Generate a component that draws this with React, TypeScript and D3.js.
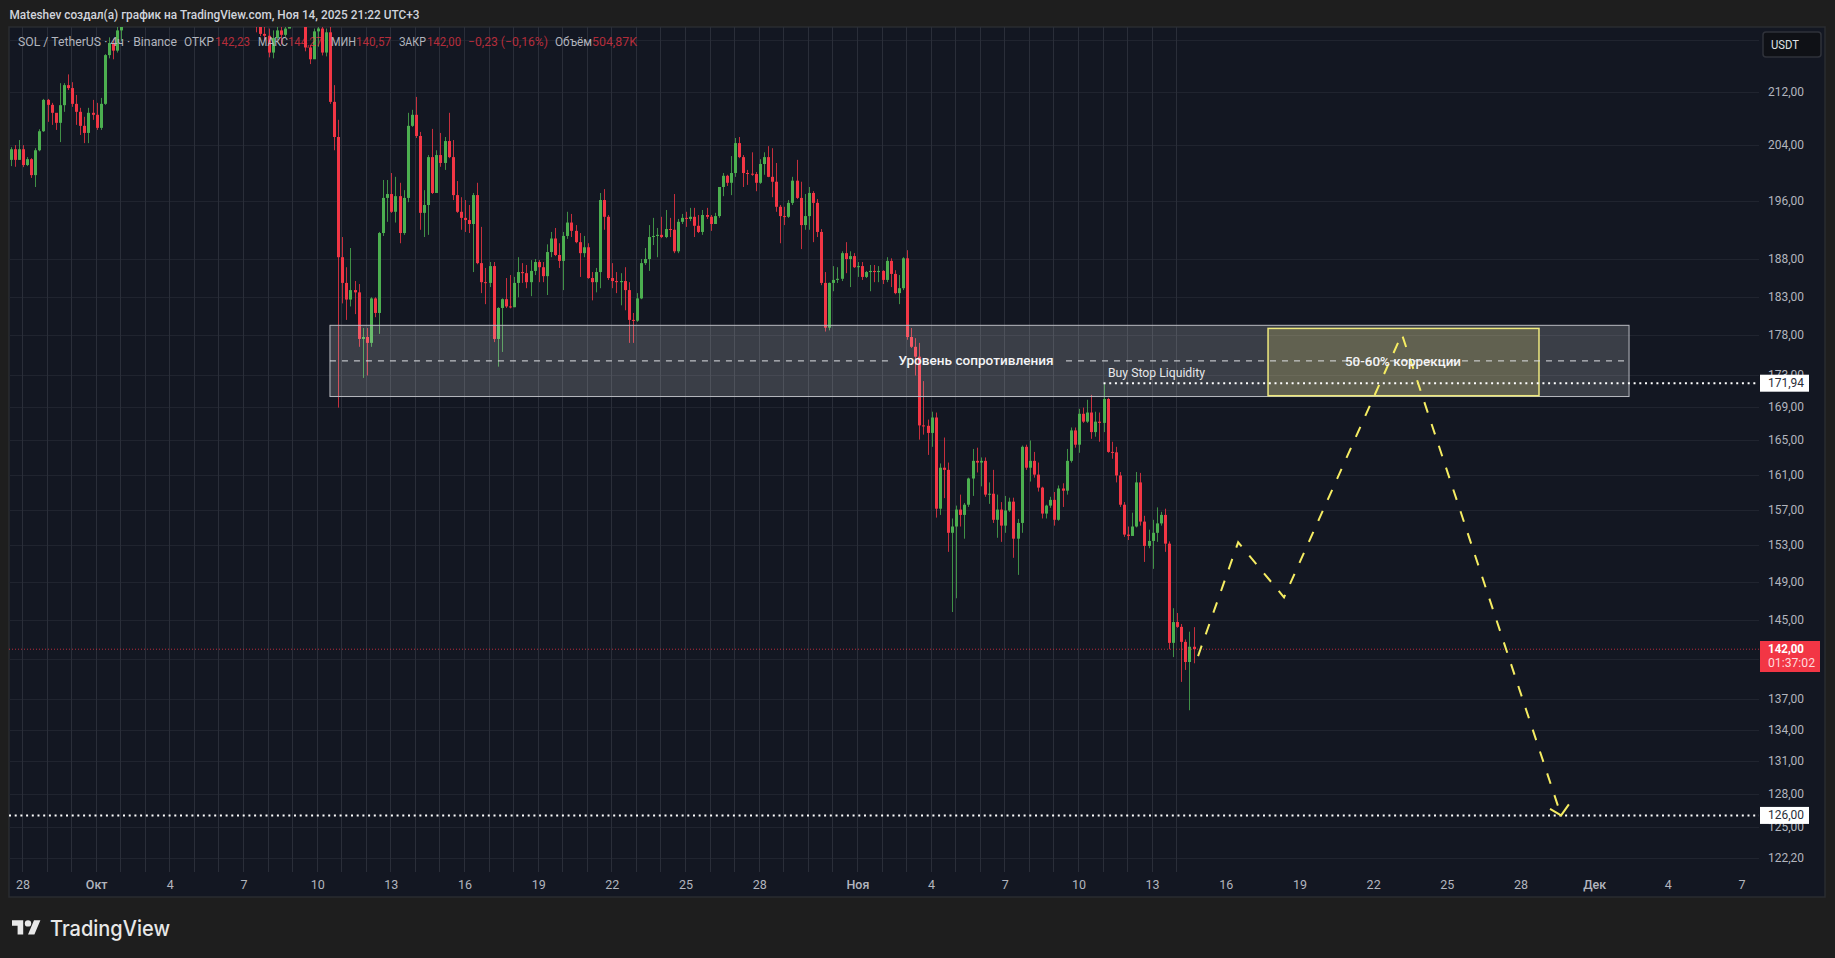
import React from "react";
import * as d3 from "d3";

// 4h candles, first one is Sep 27 12:00. Open is the previous close.
const firstOpen = 201.9;
const closes = [
  203.45,201.9,203.45,201.15,202.0,199.7,203.3,206.1,210.8,210.05,
  208.85,207.35,210,213.05,212.6,210.2,209,206.9,205.85,208.85,
  208.55,206.6,210.2,217.7,219.6,218.4,221.6,223,224.5,226,
  225.2,227,228.4,227.6,229,230.5,229.8,231,232.4,231.6,
  233,234.2,233.1,232,233.5,235,234.2,233,231.8,232.6,
  231,229.7,230.4,228.9,227.5,228.2,226.8,225.6,226.4,225,
  222.4,221.05,220.75,218.1,220.4,221.6,220.9,221.9,224.5,226.2,
  227,225.4,218.9,217.05,221.45,221.9,218.1,221.3,210.5,205.25,
  188.25,184.8,182.6,183.85,183.55,177.5,177.75,177,182.75,180.85,
  191.55,196.45,197,194.5,196.7,191.55,196.45,206.9,208.55,205.4,
  194.35,195.45,202.3,197.15,202.6,201.45,204.65,202.3,196.85,194.5,
  193.65,193.35,192.8,196.85,187.45,184.9,184.8,187.05,177.5,181.5,
  182.65,181.7,181.6,184.8,186.25,186.1,184.9,186.4,187.6,186.9,
  185.7,188.95,190.8,188.55,187.75,191.15,193,191.85,190.3,188.8,
  189.6,185.45,184.9,186.25,196.15,193.8,185.45,185.05,184.9,185.05,
  183.85,179.95,179.85,182.75,187.45,188,191,191.15,191.3,191,
  192.1,192,189.05,193.1,193.65,193.5,193.8,192.55,191.7,194.05,
  193.8,192.8,193.9,198,199.6,198.6,200,204.35,202.3,200,
  199.9,199.85,198.6,201.3,202.3,199.45,198.75,195.2,193.9,193.8,
  195.75,198.9,196.45,192.65,193.9,197.15,195.75,191.7,184.8,178.95,
  184.8,185.2,185.35,188.8,188,188.4,186.9,187.05,185.6,186.25,
  186.4,186.25,186.4,185.2,187.75,186,183.45,184.1,188.1,177.75,
  176.5,175.25,166.8,166.75,165.9,167.75,157.1,161.8,161.55,154.4,
  155.1,157,156.4,157.55,160.55,162.6,162.4,162.6,158.7,158.8,
  155.85,157,155.2,156.9,157.9,153.75,155.5,164.25,161.8,162.6,
  161,159.5,156.55,157.45,158.1,155.85,159.4,159.15,162.6,166.2,
  164.5,168.2,167.25,168.35,166,167.25,167.1,170,163.65,163.6,
  160.9,157.55,154.2,154.05,155.1,160.1,155.65,152.95,153.5,154.4,
  155.45,156.4,153.2,142.65,144.8,144.3,142.75,140.7,142.25,142,
];
const highs = [
  203.75,204.05,204.8,204.05,202.3,202.15,203.6,206.4,210.95,210.95,
  210.35,208.7,213.35,213.35,214.7,213.5,211.55,209.6,208.25,209.6,
  210.8,210.35,211.1,217.85,220.5,220.3,222.4,224.5,225.6,227.2,
  227,228.3,229.6,229,230.2,231.6,231.2,232.3,233.5,233,
  234.4,235.6,234.8,233.4,234.8,236.3,235.6,234.5,233.4,233.6,
  232.8,231.2,231.6,230.6,229,229.4,228.4,227,227.6,226.6,
  225.5,222.8,222.4,221.9,221.6,222.6,222.5,223,225.6,227.4,
  228.3,227,226,219.25,221.9,223.2,223,221.9,223.8,213.05,
  207.8,191,186.9,189.5,185.05,184.65,178.9,178.9,182.9,182.9,
  191.7,199,199,200,199.45,198.6,197.55,208.85,209.3,211.25,
  206,197.55,202.6,206.45,203.3,205.85,205.25,208.85,204.8,198.85,
  196.55,196.15,195.45,197.15,198.6,192.4,186.8,187.6,187.6,181.6,
  182.75,185.45,185.85,185.6,188.25,187.45,187.2,187.85,188,187.85,
  187.6,190,191.7,192.25,190.15,191.7,194.5,194.2,192.65,191.55,
  191.15,190.15,186.25,186.8,197.15,197.7,194.05,187.45,186.25,186.1,
  186.9,184.9,180.85,183.45,188,189.5,192.65,193.65,192.25,193.8,
  194.75,193.65,197,193.5,194.2,194.5,195.05,195.05,194.05,194.75,
  195.05,194.05,194.35,198,200,199.75,202.45,205.1,205.25,202.6,
  200.45,203,200.15,202,203,203.9,203.6,201.45,195.45,195.2,
  196.15,199.45,201.9,198.75,197,198,197.4,196.3,192.1,186.25,
  184.85,187.05,186.9,189.05,190.3,189.05,188.8,187.6,187.6,186.4,
  187.2,187.2,187.05,186.5,188.25,188.1,186.5,185.85,188.25,189.2,
  178.9,177.6,177,172.2,167.5,168.45,168.35,162.3,165.35,162.4,
  156,157.45,158.7,157.75,160.65,164,164.15,163,163,160.1,
  161.55,158.7,157.85,158.55,158.35,158.35,155.95,164.4,164.5,165,
  163.65,162.4,159.6,157.55,158.45,159,159.75,160,164,166.55,
  166.55,168.8,168.95,169.9,170.5,168.45,168.35,171.85,170.15,164.85,
  164.25,161.3,157.85,155.1,156.65,161.3,161.2,156.3,154.75,155.85,
  157.25,156.75,157.1,153.45,146.25,145.75,144.6,143,143.8,144.27,
];
const lows = [
  201,200.9,201.9,200.85,201,199.3,198,203.15,206,207.5,
  207.05,206.3,204.5,209,212.3,209.75,207.05,205.55,204.35,204.35,
  207.8,206.3,206.3,210.05,217.2,217.05,218.1,219.9,223,224,
  224.6,225,226.8,226.6,227.4,228.8,228.8,229.6,231,230.6,
  231.4,232.8,232.2,231,231.8,233.2,233.4,232.2,230.8,231,
  230,228.6,229.2,228,226.6,226.8,225.8,224.8,225,224,
  221.3,220.7,219.85,217.35,217.2,220.1,219.4,220.6,223,224,
  225.2,223.6,218.3,216.3,217.35,219,217.65,217.5,210.2,203.3,
  168.95,182.1,179.95,181.7,180.7,176.5,172.6,172.9,176.5,180.3,
  178.15,191.15,193.1,194.35,193,190.15,191.3,195.85,206.75,205.1,
  192,191,191.3,197,197.85,200.9,200.45,202.15,196.15,194.35,
  192,191.7,191.55,186.25,187.3,183.45,182,184.25,177.1,174,
  175.85,181.5,181.45,181.6,182.9,184.8,184.1,183.05,185.85,184.9,
  184.9,183.2,188.25,188.4,186.8,183.85,190.75,191,190.15,185.6,
  188.25,185.35,182.5,183.55,184.1,192,185.2,184.1,183.45,181.85,
  181.2,177,177,179.7,182.65,187.2,186.4,189.9,188.25,190.85,
  190.85,191,188.8,188.8,192.8,192.4,193.2,191,191.55,191.3,
  193.5,191.85,192.8,193.65,196.7,198.15,196.85,199.45,202.15,198,
  198.3,199.6,197.4,198.45,199.75,199.4,196.55,194.5,190.15,192.65,
  193.65,195.45,196.3,189.35,192,192,190.3,191,184.5,178.45,
  178.6,183.7,184.8,185.05,186.1,184.25,186.8,185.6,185.2,185.45,
  183.7,184.9,184.9,184.65,184.9,184.25,183.3,182,183.85,177.4,
  176.35,172.9,165.1,165.7,163.3,164.25,156.1,156.4,158.3,152.3,
  145.85,147.3,155.1,153.75,157.3,158.55,161.25,159.65,158.45,157.65,
  155.5,153.85,153.4,154.4,156.75,151.65,149.8,154.4,161.55,160.2,
  160.65,159.05,156,156,157.2,155.2,155.75,157.3,158.7,162.4,
  164.15,163.55,167.1,167.1,165.2,165.45,164.85,166,163.55,162.85,
  160.1,157.3,153.95,153.6,154.2,155,155.2,151.2,152.7,150.45,
  153.4,155.2,152.3,142,141.2,144.2,138.7,139.9,135.9,140.57,
];

const priceTicks = [212, 204, 196, 188, 183, 178, 173, 169, 165, 161, 157, 153, 149, 145, 137, 134, 131, 128, 125, 122.2];
const hiddenGridPrices = [220, 141];
const dateTicks: [number, number, number, string][] = [
  [8, 28, 2025, "28"], [9, 1, 2025, "Окт"], [9, 4, 2025, "4"], [9, 7, 2025, "7"], [9, 10, 2025, "10"], [9, 13, 2025, "13"],
  [9, 16, 2025, "16"], [9, 19, 2025, "19"], [9, 22, 2025, "22"], [9, 25, 2025, "25"], [9, 28, 2025, "28"], [10, 1, 2025, "Ноя"],
  [10, 4, 2025, "4"], [10, 7, 2025, "7"], [10, 10, 2025, "10"], [10, 13, 2025, "13"], [10, 16, 2025, "16"], [10, 19, 2025, "19"],
  [10, 22, 2025, "22"], [10, 25, 2025, "25"], [10, 28, 2025, "28"], [11, 1, 2025, "Дек"], [11, 4, 2025, "4"], [11, 7, 2025, "7"],
];

// forecast path, in candle slots / price
const forecastSlots = [290.1, 299.9, 311.1, 339.9, 378.8];
const forecastPrices = [141.3, 153.35, 147.4, 178.1, 126];
const arrowSlots = [376.1, 378.8, 380.7];
const arrowPrices = [126.6, 126, 127];

const zoneTop = 179.25;
const zoneBottom = 170.3;
const zoneMid = 174.72;
const zoneStart = 78;
const zoneEnd = 395.4;
const fibTop = 178.85;
const fibBottom = 170.4;
const fibStart = 307.2;
const fibEnd = 373.4;
const liquidity = 171.94;
const liquidityStart = 267;
const target = 126;
const lastPrice = 142;

const legendParts: [string, number, number, string][] = [
  ["SOL / TetherUS · 4ч · Binance", 18, 159, "#b2b5be"],
  ["ОТКР", 184, 30, "#b2b5be"],
  ["142,23", 215, 35, "#f23645"],
  ["МАКС", 258, 30, "#b2b5be"],
  ["144,27", 288, 34, "#f23645"],
  ["МИН", 331, 25, "#b2b5be"],
  ["140,57", 356, 35, "#f23645"],
  ["ЗАКР", 399, 27, "#b2b5be"],
  ["142,00", 427, 34, "#f23645"],
  ["−0,23 (−0,16%)", 468, 80, "#f23645"],
  ["Объём", 555, 37, "#b2b5be"],
  ["504,87K", 592, 45, "#f23645"],
];

const W = 1835;
const H = 958;
const left = 9;
const top = 27;
const plotRight = 1759;
const plotBottom = 872;
const panelRight = 1825;
const panelBottom = 897;
const font = "Roboto, 'Noto Sans', sans-serif";
const H4 = 4 * 3600 * 1000;
const t0 = Date.UTC(2025, 8, 27, 12);

const x = d3.scaleUtc().domain([new Date(Date.UTC(2025, 8, 28)), new Date(Date.UTC(2025, 11, 7))]).range([23, 1742]);
const y = d3.scaleLog().domain([212, 122.2]).range([92, 858]);
const slotX = (i: number) => x(new Date(t0 + i * H4));
const fmt = (v: number) => v.toFixed(2).replace(".", ",");

const dayLines = d3.utcDay.range(new Date(Date.UTC(2025, 8, 28)), new Date(Date.UTC(2025, 10, 15)));

const forecastLine = d3.line<number>().x((s) => slotX(s)).y((_, i) => y(forecastPrices[i]));
const arrowLine = d3.line<number>().x((s) => slotX(s)).y((_, i) => y(arrowPrices[i]));

export default function App() {
  return (
    <svg width={W} height={H} style={{ position: "fixed", left: 0, top: 0, display: "block" }} fontFamily={font}>
      <defs>
        <clipPath id="plot">
          <rect x={left} y={top} width={plotRight - left} height={plotBottom - top} />
        </clipPath>
      </defs>
      <rect width={W} height={H} fill="#1e1e1e" />
      <rect x={left} y={top} width={panelRight - left} height={panelBottom - top} fill="#131722" stroke="#2a2c31" strokeWidth={1.5} />
      <text x={9.5} y={19} fontSize={12} fontWeight={500} fill="#d1d4dc" textLength={410} lengthAdjust="spacingAndGlyphs">
        Mateshev создал(а) график на TradingView.com, Ноя 14, 2025 21:22 UTC+3
      </text>

      {/* grid */}
      <g stroke="#20242f">
        {[...priceTicks, ...hiddenGridPrices].map((p) => (
          <line key={p} x1={left} x2={plotRight} y1={Math.round(y(p)) + 0.5} y2={Math.round(y(p)) + 0.5} />
        ))}
      </g>
      <g stroke="#2a2e39">
        {dayLines.map((d) => (
          <line key={+d} x1={Math.round(x(d)) - 0.5} x2={Math.round(x(d)) - 0.5} y1={top} y2={plotBottom} />
        ))}
      </g>

      {/* candles */}
      <g clipPath="url(#plot)">
        {closes.map((c, i) => {
          const o = i ? closes[i - 1] : firstOpen;
          const cx = Math.round(slotX(i));
          const col = c >= o ? "#4caf50" : "#f23645";
          const y0 = y(Math.max(o, c));
          const y1 = y(Math.min(o, c));
          return (
            <g key={i} fill={col}>
              <rect x={cx} y={y(highs[i])} width={1} height={y(lows[i]) - y(highs[i])} opacity={0.8} />
              <rect x={cx - 1} y={y0} width={3} height={Math.max(1, y1 - y0)} />
            </g>
          );
        })}
      </g>

      <line x1={left} x2={plotRight} y1={y(lastPrice)} y2={y(lastPrice)} stroke="#f23645" strokeOpacity={0.75} strokeDasharray="1 2" />

      {/* zone + fib box */}
      <rect x={slotX(zoneStart)} y={y(zoneTop)} width={slotX(zoneEnd) - slotX(zoneStart)} height={y(zoneBottom) - y(zoneTop)}
        fill="#ffffff" fillOpacity={0.17} stroke="#b9bbc1" strokeWidth={1} />
      <rect x={slotX(fibStart)} y={y(fibTop)} width={slotX(fibEnd) - slotX(fibStart)} height={y(fibBottom) - y(fibTop)}
        fill="#fff176" fillOpacity={0.2} stroke="#eee97e" strokeWidth={1.5} />
      <g stroke="#dfe0e4" strokeDasharray="6 6">
        <line x1={slotX(zoneStart)} x2={890} y1={y(zoneMid)} y2={y(zoneMid)} />
        <line x1={1066} x2={slotX(zoneEnd) - 4} y1={y(zoneMid)} y2={y(zoneMid)} />
      </g>

      {/* levels */}
      <line x1={slotX(liquidityStart)} x2={plotRight} y1={y(liquidity)} y2={y(liquidity)} stroke="#fff" strokeWidth={2} strokeDasharray="2 3.7" />
      <line x1={left} x2={plotRight} y1={y(target)} y2={y(target)} stroke="#fff" strokeWidth={2} strokeDasharray="2 3.7" />

      {/* forecast */}
      <path d={forecastLine(forecastSlots) ?? ""} fill="none" stroke="#f5ec62" strokeWidth={2} strokeDasharray="11 12" />
      <path d={arrowLine(arrowSlots) ?? ""} fill="none" stroke="#f5ec62" strokeWidth={2} />

      <g fontSize={13.5} fontWeight={500} fill="#f4f4f6" textAnchor="middle">
        <text x={976} y={365} textLength={155} lengthAdjust="spacingAndGlyphs">Уровень сопротивления</text>
        <text x={1403} y={366} textLength={116} lengthAdjust="spacingAndGlyphs">50-60% коррекции</text>
      </g>
      <text x={1108} y={377} fontSize={12} fill="#e6e7ea" textLength={97} lengthAdjust="spacingAndGlyphs">Buy Stop Liquidity</text>

      {/* legend */}
      <g fontSize={12}>
        {legendParts.map(([t, lx, w, c]) => (
          <text key={t} x={lx} y={46} fill={c} fillOpacity={c === "#f23645" ? 0.72 : 1} textLength={w} lengthAdjust="spacingAndGlyphs">{t}</text>
        ))}
      </g>

      {/* price axis */}
      <g fontSize={12.5} fill="#b2b5be">
        {priceTicks.map((p) => (
          <text key={p} x={1768} y={y(p) + 4} textLength={36} lengthAdjust="spacingAndGlyphs">{fmt(p)}</text>
        ))}
      </g>

      {/* date axis */}
      <g fontSize={12.5} fill="#b2b5be" textAnchor="middle">
        {dateTicks.map(([m, d, yr, label]) => (
          <text key={`${m}-${d}`} x={x(new Date(Date.UTC(yr, m, d)))} y={889} fontWeight={label.length > 2 ? 500 : 400}>{label}</text>
        ))}
      </g>

      {/* price labels */}
      <rect x={1760} y={y(liquidity) - 8.5} width={49} height={17} fill="#ffffff" />
      <text x={1768} y={y(liquidity) + 4} fontSize={12.5} fill="#2a2e39" textLength={36} lengthAdjust="spacingAndGlyphs">{fmt(liquidity)}</text>
      <rect x={1760} y={y(target) - 8.5} width={49} height={17} fill="#ffffff" />
      <text x={1768} y={y(target) + 4} fontSize={12.5} fill="#2a2e39" textLength={36} lengthAdjust="spacingAndGlyphs">{fmt(target)}</text>
      <rect x={1760} y={641} width={60} height={31} fill="#f23645" />
      <text x={1768} y={653} fontSize={12.5} fontWeight={700} fill="#ffffff" textLength={36} lengthAdjust="spacingAndGlyphs">{fmt(lastPrice)}</text>
      <text x={1768} y={667} fontSize={12.5} fill="#ffd9dc" textLength={47} lengthAdjust="spacingAndGlyphs">01:37:02</text>

      <rect x={1763} y={32} width={58} height={25} rx={3} fill="#0f1116" stroke="#2f323a" strokeWidth={1.5} />
      <text x={1771} y={49} fontSize={12.5} fill="#dfe1e6" textLength={28} lengthAdjust="spacingAndGlyphs">USDT</text>

      {/* logo */}
      <g transform="translate(12,917) scale(0.8)" fill="#e8e8e8">
        <path d="M14 22H7V11H0V4h14v18zM28 22h-8l7.5-18h8L28 22z" />
        <circle cx={20} cy={8} r={4} />
      </g>
      <text x={50} y={936} fontFamily="Inter, Roboto, sans-serif" fontSize={21} fontWeight={500} fill="#e8e8e8" textLength={120} lengthAdjust="spacingAndGlyphs">TradingView</text>
    </svg>
  );
}
